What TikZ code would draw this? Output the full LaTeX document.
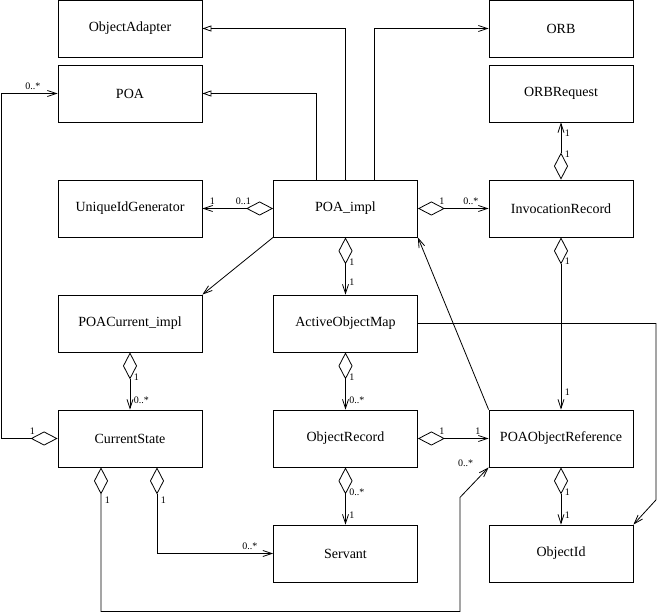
\documentclass[tikz,border=0pt]{standalone}
\usepackage{fontspec}
\setmainfont{Liberation Serif}
\usetikzlibrary{arrows.meta}

\begin{document}
\begin{tikzpicture}[node distance=115pt, line width=0.8pt]
        % Stijlen
        \tikzstyle{cls} = [rectangle, minimum width=144pt, minimum height=57pt, inner sep=0pt, text centered, draw=black, font=\fontsize{14}{16}\selectfont]
        \tikzstyle{lbl} = [inner sep=1.5pt, font=\fontsize{10}{12}\selectfont]
        \tikzstyle{gen} = [-{Triangle[open,length=9pt,width=6pt]}]
        \tikzstyle{assoc} = [-{Straight Barb[length=9pt,width=6pt]}]
        \tikzstyle{agg} = [{Diamond[open,length=27pt,width=14pt]}-{Straight Barb[length=9pt,width=6pt]}]

        \useasboundingbox (0,0) rectangle (662pt,-612pt);

        % Klassen
        \node (adapter) [cls] at (130pt,-28.5pt) {ObjectAdapter};
        \node (poa) [cls, node distance=65pt, below of=adapter] {POA};
        \node (idgen) [cls, below of=poa] {UniqueIdGenerator};
        \node (poacur) [cls, below of=idgen] {POACurrent\_impl};
        \node (state) [cls, below of=poacur] {CurrentState};
        \node (impl) [cls, node distance=215.5pt, right of=idgen] {POA\_impl};
        \node (aom) [cls, below of=impl] {ActiveObjectMap};
        \node (orec) [cls, below of=aom] {ObjectRecord};
        \node (servant) [cls, below of=orec] {Servant};
        \node (invrec) [cls, node distance=215.5pt, right of=impl] {InvocationRecord};
        \node (orbreq) [cls, node distance=115pt, above of=invrec] {ORBRequest};
        \node (orb) [cls, node distance=65pt, above of=orbreq] {ORB};
        \node (por) [cls, node distance=230pt, below of=invrec] {POAObjectReference};
        \node (oid) [cls, below of=por] {ObjectId};

        % Overerving
        \draw [gen] (impl.north) |- (adapter.east);
        \draw [gen] ([xshift=-29pt]impl.north) |- (poa.east);
        \draw [assoc] ([xshift=29pt]impl.north) |- (orb.west);

        % Aggregaties
        \draw [agg] (impl.west) -- (idgen.east) node[lbl, pos=0.42, above=2pt] {0..1} node[lbl, pos=0.86, above=2pt] {1};
        \draw [agg] (impl.east) -- (invrec.west) node[lbl, pos=0.34, above=2pt] {1} node[lbl, pos=0.75, above=2pt] {0..*};
        \draw [agg] (invrec.north) -- (orbreq.south) node[lbl, pos=0.45, right=2pt] {1} node[lbl, pos=0.81, right=2pt] {1};
        \draw [agg] (impl.south) -- (aom.north) node[lbl, pos=0.43, right=2pt] {1} node[lbl, pos=0.79, right=2pt] {1};
        \draw [agg] (invrec.south) -- (por.north) node[lbl, pos=0.14, right=2pt] {1} node[lbl, pos=0.9, right=2pt] {1};
        \draw [agg] (aom.south) -- (orec.north) node[lbl, pos=0.43, right=2pt] {1} node[lbl, pos=0.83, right=2pt] {0..*};
        \draw [agg] (poacur.south) -- (state.north) node[lbl, pos=0.43, right=2pt] {1} node[lbl, pos=0.83, right=2pt] {0..*};
        \draw [agg] (orec.east) -- (por.west) node[lbl, pos=0.34, above=2pt] {1} node[lbl, pos=0.85, above=2pt] {1};
        \draw [agg] (orec.south) -- (servant.north) node[lbl, pos=0.43, right=2pt] {0..*} node[lbl, pos=0.83, right=2pt] {1};
        \draw [agg] (por.south) -- (oid.north) node[lbl, pos=0.43, right=2pt] {1} node[lbl, pos=0.83, right=2pt] {1};
        \draw [agg] (state.west) -- ++(-56pt,0) node[lbl, pos=0.45, above=2pt] {1}
                |- (poa.west) node[lbl, pos=0.78, above=2pt] {0..*};
        \draw [agg] ([xshift=27pt]state.south) |- (servant.west) node[lbl, pos=0.19, right=2pt] {1} node[lbl, pos=0.9, above=2pt] {0..*};
        \draw [agg] ([xshift=-29pt]state.south) -- ++(0,-144pt) node[lbl, pos=0.23, right=2pt] {1}
                -- ++(359pt,0) -- ++(0,114pt) -- (por.south west) node[lbl, at end, xshift=-23pt, yshift=4pt] {0..*};

        % Associaties
        \draw [assoc] (impl.south west) -- (poacur.north east);
        \draw [assoc] (por.north west) -- (impl.south east);
        \draw [assoc] (aom.east) -- ++(238pt,0) -- ++(0,-176.5pt) -- (oid.north east);

    \end{tikzpicture}
\end{document}
